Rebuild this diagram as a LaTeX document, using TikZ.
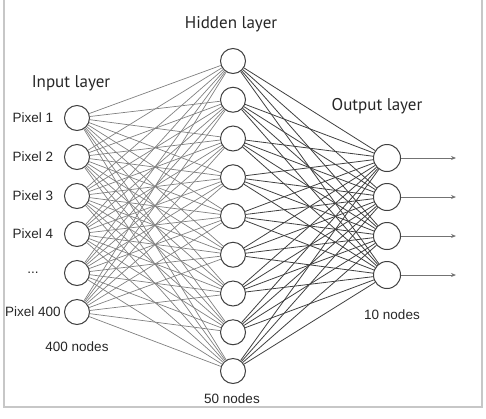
\documentclass[tikz,border=0pt]{standalone}
\usepackage{fontspec}
\newfontfamily\labfont{Liberation Sans}
\newfontfamily\titfont{PT Sans}
\usetikzlibrary{arrows.meta}
\begin{document}
\begin{tikzpicture}[x=1pt,y=-1pt,
  neuron/.style={circle, draw=black!75, line width=1pt, fill=white, minimum size=25pt, inner sep=0pt},
  outneuron/.style={neuron, minimum size=27pt},
  lab/.style={font=\labfont\fontsize{13.5}{15}\selectfont, text=black!85, inner sep=0pt},
  title/.style={font=\titfont\fontsize{17}{19}\selectfont, text=black!85, inner sep=0pt, anchor=base},
  ihedge/.style={draw=black!50, line width=0.7pt},
  hoedge/.style={draw=black!75, line width=0.8pt},
  outarrow/.style={draw=black!55, line width=1pt, -{Stealth[length=5pt,width=4pt]}},
  frame/.style={draw=black!22, line width=1.6pt}]
\useasboundingbox (0,0) rectangle (486,418);
\clip (0,0) rectangle (486,418);
\draw[frame] (4,-5) rectangle (482,407);
% input nodes
\foreach \i/\y in {1/118,2/157,3/196,4/234,5/273,6/312}{
  \node[neuron] (in\i) at (77,\y) {};
}
% hidden nodes
\foreach \i in {1,...,9}{
  \node[neuron] (h\i) at (233,{61+38.75*(\i-1)}) {};
}
% output nodes
\foreach \i/\y in {1/158,2/197,3/236,4/275}{
  \node[outneuron] (o\i) at (387,\y) {};
  \coordinate (t\i) at (456,\y);
  \draw[outarrow] (o\i) -- (t\i);
}
% edges
\foreach \i in {1,...,6}{
  \foreach \j in {1,...,9}{
    \draw[ihedge] (in\i) -- (h\j);
  }
}
\foreach \j in {1,...,9}{
  \foreach \k in {1,...,4}{
    \draw[hoedge] (h\j) -- (o\k);
  }
}
% pixel labels
\node[lab] (p1) at (33,118) {Pixel 1};
\node[lab] (p2) at (33,157) {Pixel 2};
\node[lab] (p3) at (33,196) {Pixel 3};
\node[lab] (p4) at (33,234) {Pixel 4};
\node[lab] (p5) at (33,273) {...};
\node[lab] (p6) at (33,312) {Pixel 400};
% titles
\node[title] (tin) at (71,87) {Input layer};
\node[title] (thid) at (231,28) {Hidden layer};
\node[title] (tout) at (377,110) {Output layer};
% counts
\node[lab, anchor=base] (c1) at (77,351) {400 nodes};
\node[lab, anchor=base] (c2) at (232,403) {50 nodes};
\node[lab, anchor=base] (c3) at (392,319) {10 nodes};
% caption (cut off at the bottom, as in the reference)
\node[anchor=base west, inner sep=0pt, font=\fontsize{15}{17}\selectfont] (cap) at (128,440) {Fig. 2: 3 Layer Neural Network};
\end{tikzpicture}
\end{document}
